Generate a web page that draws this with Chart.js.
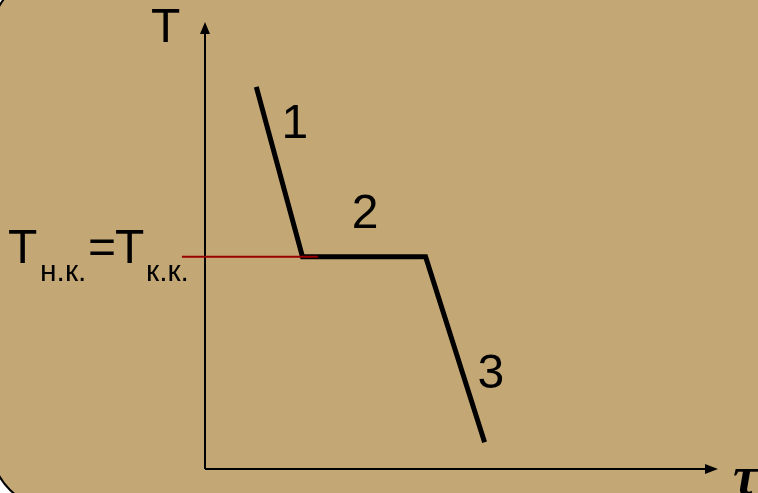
<!DOCTYPE html>
<html><head><meta charset="utf-8">
<script src="https://cdn.jsdelivr.net/npm/chart.js@4.4.0/dist/chart.umd.min.js"></script>
<style>html,body{margin:0;padding:0;background:#fff;}#wrap{width:758px;height:493px;position:relative;}</style>
</head><body>
<div id="wrap"><canvas id="c" width="758" height="493"></canvas></div>
<script>
// Data (time τ, temperature T) in arbitrary units
const times = [1.0, 1.9, 4.3, 5.45];
const temps = [8.55, 4.75, 4.75, 0.6];
const tCrystal = 4.75;           // Т н.к. = Т к.к.
const refLineX = [-0.45, 2.2];   // red reference line extent
const segLabels = ['1', '2', '3'];
const segLabelX = [1.75, 3.12, 5.57];
const segLabelY = [7.40, 5.39, 1.81];

const bgPlugin = {
  id: 'bg',
  beforeDraw(chart) {
    const ctx = chart.ctx, W = chart.width, H = chart.height;
    ctx.save();
    ctx.fillStyle = '#ffffff';
    ctx.fillRect(0, 0, W, H);
    ctx.beginPath();
    ctx.roundRect(-8, -25, W + 60, H + 39, 60);
    ctx.fillStyle = '#C3A876';
    ctx.fill();
    ctx.lineWidth = 2;
    ctx.strokeStyle = '#000';
    ctx.stroke();
    ctx.restore();
  }
};

const axesPlugin = {
  id: 'axes',
  beforeDatasetsDraw(chart) {
    const ctx = chart.ctx, xs = chart.scales.x, ys = chart.scales.y;
    const x0 = xs.getPixelForValue(0), y0 = ys.getPixelForValue(0);
    const yTop = ys.getPixelForValue(ys.max), xEnd = xs.getPixelForValue(xs.max);
    ctx.save();
    ctx.strokeStyle = '#000'; ctx.fillStyle = '#000'; ctx.lineWidth = 2;
    ctx.beginPath();
    ctx.moveTo(x0, y0); ctx.lineTo(x0, yTop + 8);
    ctx.moveTo(x0, y0); ctx.lineTo(xEnd - 8, y0);
    ctx.stroke();
    ctx.beginPath();
    ctx.moveTo(x0, yTop); ctx.lineTo(x0 - 5, yTop + 12); ctx.lineTo(x0 + 5, yTop + 12); ctx.closePath(); ctx.fill();
    ctx.beginPath();
    ctx.moveTo(xEnd, y0); ctx.lineTo(xEnd - 13, y0 - 5); ctx.lineTo(xEnd - 13, y0 + 5); ctx.closePath(); ctx.fill();

    // axis titles
    ctx.textBaseline = 'alphabetic';
    ctx.font = '48px "Liberation Sans", Arial, sans-serif';
    ctx.textAlign = 'left';
    ctx.fillText('T', x0 - 54, yTop + 20);
    ctx.font = 'bold italic 54px "Liberation Serif", "DejaVu Serif", serif';
    ctx.fillText('τ', xEnd + 15, y0 + 25);

    // segment labels
    ctx.font = '48px "Liberation Sans", Arial, sans-serif';
    ctx.textAlign = 'center';
    for (let i = 0; i < segLabels.length; i++) {
      ctx.fillText(segLabels[i], xs.getPixelForValue(segLabelX[i]), ys.getPixelForValue(segLabelY[i]));
    }

    // T н.к. = T к.к.
    const yb = ys.getPixelForValue(tCrystal) + 6;
    ctx.textAlign = 'left';
    ctx.font = '48px "Liberation Sans", Arial, sans-serif';
    ctx.fillText('T', 8, yb);
    ctx.fillText('=', 88, yb);
    ctx.fillText('T', 115, yb);
    ctx.font = '30px "Liberation Sans", Arial, sans-serif';
    ctx.fillText('н.к.', 40, yb + 18);
    ctx.fillText('к.к.', 146, yb + 18);
    ctx.restore();
  }
};

new Chart(document.getElementById('c'), {
  type: 'scatter',
  data: {
    datasets: [
      {
        data: refLineX.map(x => ({x: x, y: tCrystal})),
        showLine: true, borderColor: '#990000', borderWidth: 2,
        pointRadius: 0, clip: false, order: 1
      },
      {
        data: times.map((t, i) => ({x: t, y: temps[i]})),
        showLine: true, borderColor: '#000', borderWidth: 5,
        borderJoinStyle: 'miter', borderCapStyle: 'butt',
        pointRadius: 0, clip: false, order: 2
      }
    ]
  },
  options: {
    responsive: false, animation: false, devicePixelRatio: 1,
    layout: { padding: { left: 205, right: 40, top: 22, bottom: 24 } },
    plugins: { legend: { display: false }, tooltip: { enabled: false } },
    scales: {
      x: { type: 'linear', min: 0, max: 10, display: false },
      y: { type: 'linear', min: 0, max: 10, display: false }
    }
  },
  plugins: [bgPlugin, axesPlugin]
});
</script>
</body></html>
